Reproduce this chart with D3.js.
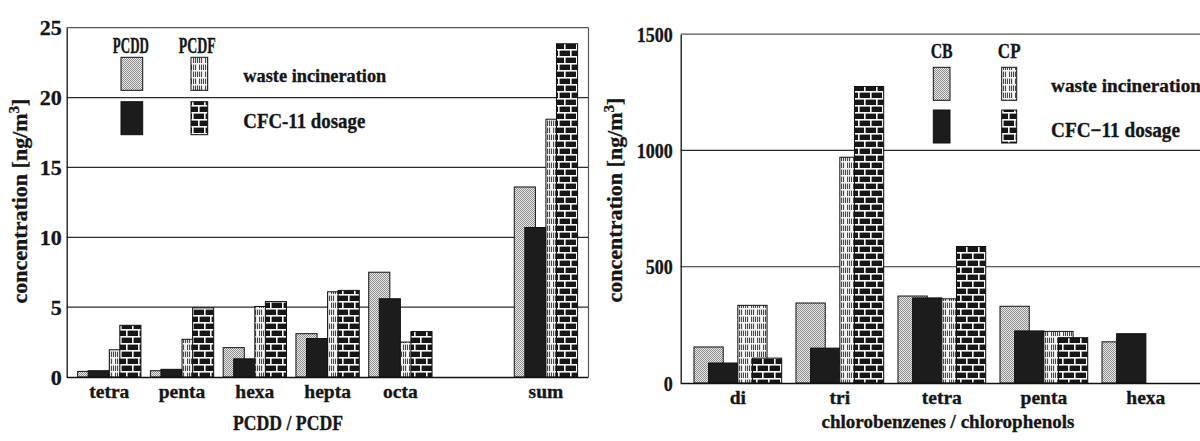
<!DOCTYPE html>
<html>
<head>
<meta charset="utf-8">
<script src="https://cdn.jsdelivr.net/npm/d3@7"></script>
<style>
  html, body { margin: 0; padding: 0; background: #fff; }
  svg { display: block; }
  svg text { stroke: #161616; stroke-width: 0.35px; }
</style>
</head>
<body>
<svg id="chart" width="1200" height="441"></svg>
<script>
// ---- PCDD / PCDF homologue groups (ng/m3) ----
const dioxinGroups = ["tetra", "penta", "hexa", "hepta", "octa", "sum"];
const pcddWaste = [0.4, 0.45, 2.1, 3.1, 7.5, 13.6];
const pcddCfc   = [0.45, 0.55, 1.3, 2.75, 5.6, 10.7];
const pcdfWaste = [1.95, 2.7, 5.05, 6.1, 2.5, 18.45];
const pcdfCfc   = [3.7, 4.95, 5.4, 6.2, 3.25, 23.85];
const dioxinTicks = [0, 5, 10, 15, 20, 25];

// ---- chlorobenzenes / chlorophenols by chlorination degree (ng/m3) ----
const chloroGroups = ["di", "tri", "tetra", "penta", "hexa"];
const cbWaste = [155, 344, 374, 330, 177];
const cbCfc   = [86, 150, 366, 224, 212];
const cpWaste = [334, 971, 362, 222, null];
const cpCfc   = [107, 1275, 587, 195, null];
const chloroTicks = [0, 500, 1000, 1500];

const FONT = "'Liberation Serif', 'Times New Roman', Tinos, serif";
const INK = "#161616";

const svg = d3.select("#chart")
  .attr("font-family", FONT).attr("font-weight", "bold");
svg.append("rect").attr("width", 1200).attr("height", 441).attr("fill", "#fff").attr("stroke", "none");
const defs = svg.append("defs");

// fine stipple
const stip = defs.append("pattern").attr("id", "stipple")
  .attr("patternUnits", "userSpaceOnUse").attr("width", 2).attr("height", 2);
stip.append("rect").attr("width", 2).attr("height", 2).attr("fill", "#e8e8e8");
stip.append("rect").attr("x", 0).attr("y", 0).attr("width", 1).attr("height", 1).attr("fill", "#8e8e8e");
stip.append("rect").attr("x", 1).attr("y", 1).attr("width", 1).attr("height", 1).attr("fill", "#8e8e8e");

// light brick with hatched stones
const rib = defs.append("pattern").attr("id", "ribbed")
  .attr("patternUnits", "userSpaceOnUse").attr("width", 12).attr("height", 14);
rib.append("rect").attr("width", 12).attr("height", 14).attr("fill", "#f4f4f4");
[0, 1].forEach(r => {
  d3.range(5).forEach(k => {
    rib.append("rect")
      .attr("x", (r * 6 + 1 + 2 * k) % 12).attr("y", r * 7 + 1.6)
      .attr("width", 1.1).attr("height", 5.4).attr("fill", "#4a4a4a");
  });
});

// dark brick with white mortar
const brick = defs.append("pattern").attr("id", "brick")
  .attr("patternUnits", "userSpaceOnUse").attr("width", 12).attr("height", 14);
brick.append("rect").attr("width", 12).attr("height", 14).attr("fill", "#161616");
brick.append("rect").attr("x", 0).attr("y", 0).attr("width", 12).attr("height", 1.6).attr("fill", "#fafafa");
brick.append("rect").attr("x", 0).attr("y", 7).attr("width", 12).attr("height", 1.6).attr("fill", "#fafafa");
brick.append("rect").attr("x", 0).attr("y", 0).attr("width", 1.6).attr("height", 7).attr("fill", "#fafafa");
brick.append("rect").attr("x", 6).attr("y", 7).attr("width", 1.6).attr("height", 7).attr("fill", "#fafafa");

const fills = ["url(#stipple)", "#1c1c1c", "url(#ribbed)", "url(#brick)"];
// bar offsets inside a group, in bar widths: each pair overlaps by half a bar
const shift = [0, 0.5, 1.5, 2];

function styleAxis(a, size) {
  a.attr("font-family", FONT).attr("font-size", size).attr("font-weight", "bold").attr("color", "#111");
  a.selectAll("text").attr("fill", INK);
}

function panel(opt) {
  const g = svg.append("g");
  const domain = opt.groups.slice();
  if (opt.spacerBefore) domain.splice(domain.indexOf(opt.spacerBefore), 0, "\u00a0");

  const x = d3.scaleBand().domain(domain).range(opt.xRange)
    .paddingInner(opt.padInner).paddingOuter(opt.padOuter);
  const y = d3.scaleLinear().domain([0, d3.max(opt.ticks)]).range(opt.yRange);
  const top = d3.max(opt.ticks);

  // grid lines
  g.append("g").selectAll("line").data(opt.ticks.filter(t => t > 0 && t < top)).join("line")
    .attr("x1", opt.xRange[0]).attr("x2", opt.frameRight)
    .attr("y1", d => y(d)).attr("y2", d => y(d))
    .attr("stroke", "#2b2b2b").attr("stroke-width", 1.2);

  // frame: top and right edge
  g.append("line")
    .attr("x1", opt.xRange[0]).attr("x2", opt.frameRight)
    .attr("y1", y(top)).attr("y2", y(top))
    .attr("stroke", "#555").attr("stroke-width", 1.2);
  g.append("line")
    .attr("x1", opt.frameRight).attr("x2", opt.frameRight)
    .attr("y1", y(top)).attr("y2", y(0))
    .attr("stroke", "#555").attr("stroke-width", 1.2);

  // bars, drawn series by series so later bars overlap earlier ones
  const w = x.bandwidth() / 3;
  opt.series.forEach((vals, si) => {
    const rows = opt.groups.map((c, i) => ({ c, v: vals[i] })).filter(d => d.v != null);
    g.append("g").selectAll("rect").data(rows).join("rect")
      .attr("x", d => x(d.c) + shift[si] * w)
      .attr("width", w)
      .attr("y", d => y(d.v))
      .attr("height", d => y(0) - y(d.v))
      .attr("fill", fills[si])
      .attr("stroke", "#111").attr("stroke-width", 1);
  });

  // y axis
  g.append("g").attr("transform", `translate(${opt.xRange[0]},0)`)
    .call(d3.axisLeft(y).tickValues(opt.ticks).tickFormat(d3.format("d"))
      .tickSize(0).tickSizeOuter(0).tickPadding(opt.yPad))
    .call(a => styleAxis(a, 22))
    .call(a => a.select(".domain").attr("stroke-width", 1.3))
    .call(a => {
      if (opt.digitWidth) {
        a.selectAll(".tick text")
          .attr("textLength", d => String(d).length * opt.digitWidth)
          .attr("lengthAdjust", "spacingAndGlyphs");
      }
    });

  // x axis (baseline)
  g.append("g").attr("transform", `translate(0,${y(0)})`)
    .call(d3.axisBottom(x).tickValues(opt.groups).tickSize(0).tickSizeOuter(0).tickPadding(7))
    .call(a => styleAxis(a, 19.5))
    .call(a => a.select(".domain").attr("stroke-width", 1.3).attr("d", `M${opt.xRange[0]},0.5H${opt.frameRight}`));

  // y title
  const yt = g.append("text")
    .attr("transform", `translate(${opt.yTitlePos[0]},${opt.yTitlePos[1]}) rotate(-90)`)
    .attr("text-anchor", "middle").attr("font-size", 22).attr("fill", INK);
  yt.append("tspan").text("concentration [ng/m");
  yt.append("tspan").attr("baseline-shift", "super").attr("font-size", 15).text("3");
  yt.append("tspan").text("]");

  // x title
  const xt = g.append("text")
    .attr("x", opt.xTitlePos[0]).attr("y", opt.xTitlePos[1])
    .attr("text-anchor", "middle").attr("font-size", opt.xTitleSize).attr("fill", INK)
    .text(opt.xTitle);
  if (opt.xTitleLen) xt.attr("textLength", opt.xTitleLen).attr("lengthAdjust", "spacingAndGlyphs");

  // legend
  const L = opt.legend;
  const lg = g.append("g").attr("fill", INK);
  L.heads.forEach((h, i) => {
    lg.append("text").attr("x", L.colX[i] + L.colW[i] / 2 + L.headDx[i]).attr("y", L.headY)
      .attr("text-anchor", "middle").attr("font-size", L.headSize)
      .attr("textLength", L.headLen[i]).attr("lengthAdjust", "spacingAndGlyphs")
      .text(h);
  });
  [0, 1].forEach(row => {
    [0, 1].forEach(col => {
      lg.append("rect")
        .attr("x", L.colX[col]).attr("y", L.rowY[row])
        .attr("width", L.colW[col]).attr("height", L.rowH)
        .attr("fill", fills[col * 2 + row])
        .attr("stroke", "#111").attr("stroke-width", 1);
    });
    const t = lg.append("text").attr("x", L.textX).attr("y", L.textY[row])
      .attr("font-size", L.textSize[row]).text(L.labels[row]);
    if (L.textLen[row]) t.attr("textLength", L.textLen[row]).attr("lengthAdjust", "spacingAndGlyphs");
  });
}

panel({
  groups: dioxinGroups,
  spacerBefore: "sum",
  series: [pcddWaste, pcddCfc, pcdfWaste, pcdfCfc],
  ticks: dioxinTicks,
  xRange: [66.7, 588.5], frameRight: 588.5,
  padInner: 0.13, padOuter: 0.15,
  yRange: [377, 27.7],
  yPad: 5,
  yTitlePos: [27, 201],
  xTitle: "PCDD / PCDF", xTitlePos: [288, 430], xTitleSize: 21, xTitleLen: 110,
  legend: {
    heads: ["PCDD", "PCDF"], headY: 53, headSize: 24, headLen: [36, 37], headDx: [-1, -2],
    colX: [121, 191], colW: [21.7, 16.7],
    rowY: [57.3, 101.7], rowH: 33,
    textX: 243.3, textY: [81.7, 128.3], textSize: [18.5, 21],
    textLen: [143, 122],
    labels: ["waste incineration", "CFC-11 dosage"]
  }
});

panel({
  groups: chloroGroups,
  series: [cbWaste, cbCfc, cpWaste, cpCfc],
  ticks: chloroTicks,
  xRange: [680.7, 1203], frameRight: 1203,
  padInner: 0.14, padOuter: 0.13,
  yRange: [383, 34.2],
  yPad: 8,
  digitWidth: 9,
  yTitlePos: [622, 200],
  xTitle: "chlorobenzenes / chlorophenols", xTitlePos: [948, 428], xTitleSize: 19, xTitleLen: 253,
  legend: {
    heads: ["CB", "CP"], headY: 57.7, headSize: 22, headLen: [22, 22.7], headDx: [0, 0],
    colX: [933.3, 1001.7], colW: [16.7, 15],
    rowY: [67.3, 110], rowH: 33,
    textX: 1051, textY: [91.7, 136.7], textSize: [18.5, 21],
    textLen: [150, 129],
    labels: ["waste incineration", "CFC\u221211 dosage"]
  }
});
</script>
</body>
</html>
